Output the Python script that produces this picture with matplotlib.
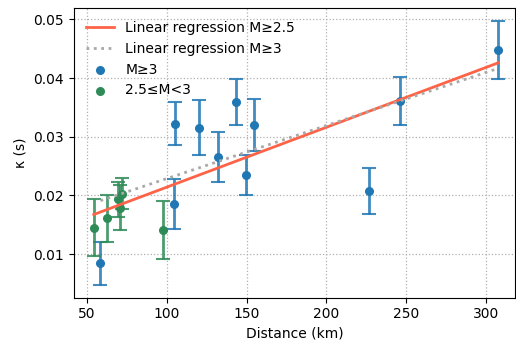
import matplotlib.pyplot as plt
import numpy as np

# M >= 3 events
dist_m3 = [58.6, 104.5, 105.3, 120.4, 132.0, 143.2, 149.6, 154.6, 226.9, 246.1, 307.5]
kappa_m3 = [0.0084, 0.0185, 0.0322, 0.0315, 0.0265, 0.0359, 0.0234, 0.0320, 0.0208, 0.0361, 0.0448]
err_m3 = [0.0036, 0.0043, 0.0037, 0.0047, 0.0043, 0.0039, 0.0034, 0.0045, 0.0039, 0.0041, 0.0049]

# 2.5 <= M < 3 events
dist_m25 = [54.4, 62.7, 69.5, 71.0, 72.0, 97.8]
kappa_m25 = [0.0145, 0.0161, 0.0193, 0.0179, 0.0203, 0.0141]
err_m25 = [0.0048, 0.0040, 0.0030, 0.0038, 0.0027, 0.0050]

x_all = np.array(dist_m3 + dist_m25)
y_all = np.array(kappa_m3 + kappa_m25)
p_all = np.polyfit(x_all, y_all, 1)
p_m3 = np.polyfit(dist_m3, kappa_m3, 1)

fig = plt.figure(figsize=(5.16, 3.4), dpi=100)
ax = fig.add_axes([0.143, 0.125, 0.855, 0.851])

xs = np.array([x_all.min(), x_all.max()])
ax.plot(xs, np.polyval(p_all, xs), color="tomato", lw=2, zorder=4,
        label="Linear regression M≥2.5")
xs3 = np.array([min(dist_m3), max(dist_m3)])
ax.plot(xs3, np.polyval(p_m3, xs3), color="darkgray", ls=":", lw=2, zorder=4,
        label="Linear regression M≥3")

ax.errorbar(dist_m3, kappa_m3, yerr=err_m3, fmt="none", ecolor="C0",
            capsize=5, elinewidth=2, capthick=1.5, alpha=0.85)
ax.scatter(dist_m3, kappa_m3, s=30, color="C0", zorder=3, label="M≥3")
ax.errorbar(dist_m25, kappa_m25, yerr=err_m25, fmt="none", ecolor="seagreen",
            capsize=5, elinewidth=2, capthick=1.5, alpha=0.85)
ax.scatter(dist_m25, kappa_m25, s=30, color="seagreen", zorder=3, label="2.5≤M<3")

ax.set_xlim(41.9, 318)
ax.set_ylim(0.0026, 0.0519)
ax.set_xticks([50, 100, 150, 200, 250, 300])
ax.set_yticks([0.01, 0.02, 0.03, 0.04, 0.05])
ax.grid(True, ls=":", color="#b0b0b0", lw=0.9)
ax.set_xlabel("Distance (km)")
ax.set_ylabel("κ (s)")
ax.legend(loc="upper left", frameon=False)

fig.savefig("out.png")
